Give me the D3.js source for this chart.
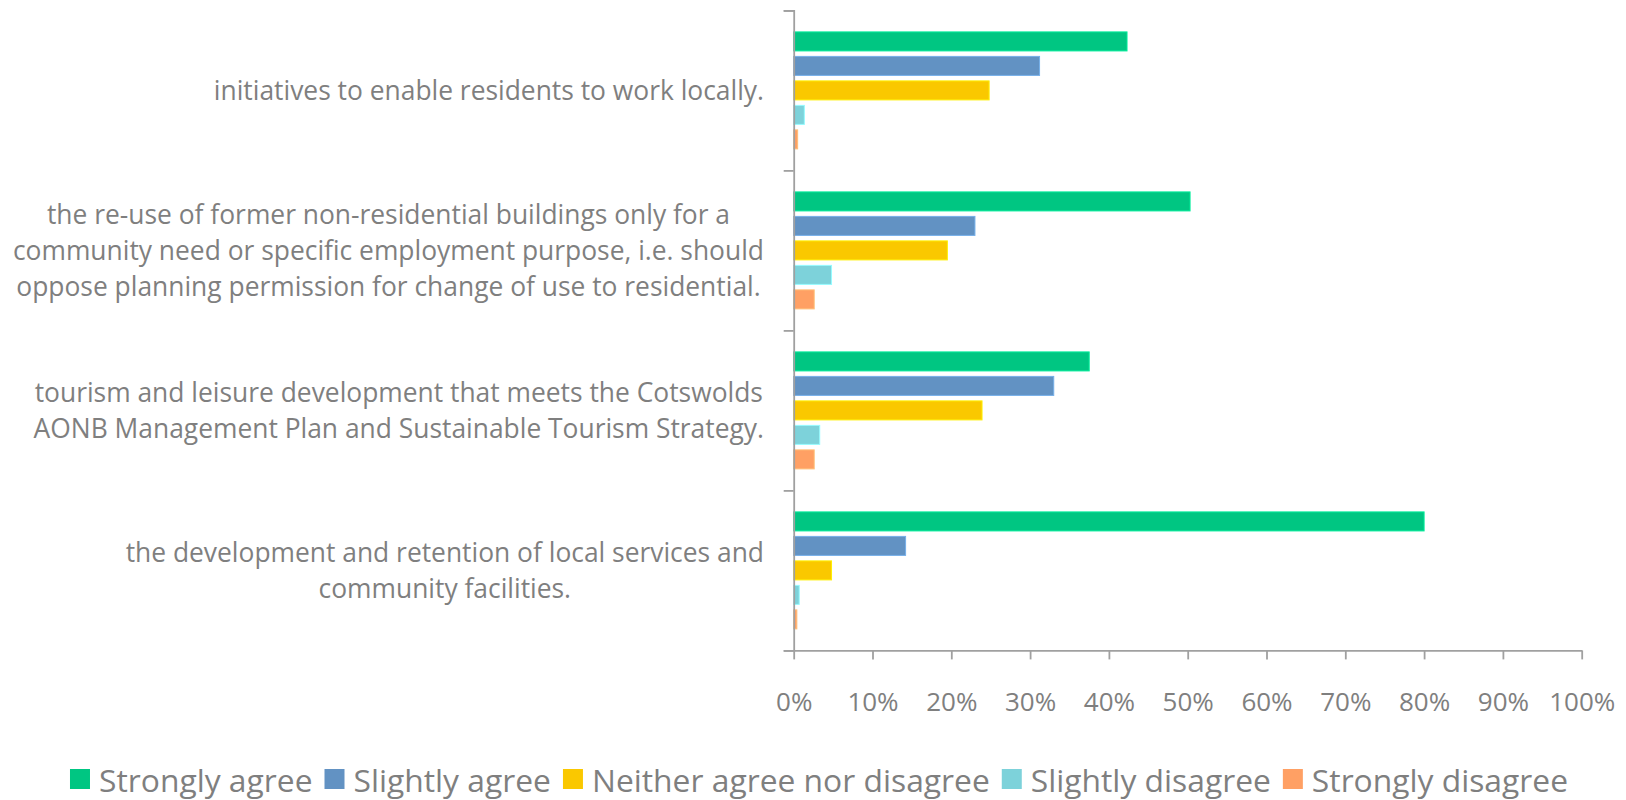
<!DOCTYPE html>
<html>
<head>
<meta charset="utf-8">
<script src="https://cdn.jsdelivr.net/npm/d3@7"></script>
<style>
  html, body { margin: 0; padding: 0; background: #fff; }
  svg { display: block; }
</style>
</head>
<body>
<div id="chart"></div>
<script>
// Categories, top to bottom, with the line breaks used in the picture
const categories = [
  ['initiatives to enable residents to work locally.'],
  ['the re-use of former non-residential buildings only for a',
   'community need or specific employment purpose, i.e. should',
   'oppose planning permission for change of use to residential.'],
  ['tourism and leisure development that meets the Cotswolds',
   'AONB Management Plan and Sustainable Tourism Strategy.'],
  ['the development and retention of local services and',
   'community facilities.']
];

const seriesNames = ['Strongly agree', 'Slightly agree', 'Neither agree nor disagree', 'Slightly disagree', 'Strongly disagree'];
const seriesColors = ['#00c682', '#6292c3', '#fac800', '#7dd2da', '#ffa064'];

// percentages, one value per category
const strongAgree    = [42.3, 50.3, 37.5, 80.0];
const slightAgree    = [31.2, 23.0, 33.0, 14.2];
const neither        = [24.8, 19.5, 23.9, 4.8];
const slightDisagree = [1.35, 4.8, 3.3, 0.7];
const strongDisagree = [0.5, 2.6, 2.6, 0.4];

const xTicks = [0, 10, 20, 30, 40, 50, 60, 70, 80, 90, 100];

const seriesValues = [strongAgree, slightAgree, neither, slightDisagree, strongDisagree];

const W = 1626, H = 800;
const font = "'Open Sans', sans-serif";
const textColor = '#7f7f7f';
const axisColor = '#a0a0a0';

const svg = d3.select('#chart').append('svg')
  .attr('width', W).attr('height', H)
  .style('font-family', font);

const plot = { left: 793.7, right: 1581.7, top: 10.4, bottom: 650.4 };

const xScale = d3.scaleLinear().domain([0, 100]).range([plot.left, plot.right]);

const catIds = categories.map((c, i) => i);
const y0 = d3.scaleBand().domain(catIds).range([plot.top, plot.bottom]).padding(0);
const y1 = d3.scaleBand().domain(seriesNames).range([0, y0.bandwidth()])
  .paddingInner(0.224).paddingOuter(0.878);

// Bars
const barData = [];
catIds.forEach(ci => {
  seriesNames.forEach((s, si) => {
    barData.push({ cat: ci, series: s, value: seriesValues[si][ci], color: seriesColors[si] });
  });
});

svg.append('g').selectAll('rect')
  .data(barData)
  .join('rect')
  .attr('x', xScale(0))
  .attr('y', d => y0(d.cat) + y1(d.series))
  .attr('width', d => xScale(d.value) - xScale(0))
  .attr('height', y1.bandwidth())
  .attr('fill', d => d.color)
  .attr('stroke', d => d3.color(d.color).brighter(0.5))
  .attr('stroke-width', 1);

// Left axis: ticks at category boundaries
const yEdge = d3.scaleLinear().domain([0, categories.length]).range([plot.top, plot.bottom]);
const yAxis = svg.append('g')
  .attr('transform', `translate(${plot.left},0)`)
  .call(d3.axisLeft(yEdge).ticks(categories.length).tickSize(10).tickFormat(''));
yAxis.selectAll('path, line').attr('stroke', axisColor).attr('stroke-width', 1.8);

// Bottom axis
const xAxis = svg.append('g')
  .attr('transform', `translate(0,${plot.bottom})`)
  .call(d3.axisBottom(xScale).tickValues(xTicks).tickSize(9).tickSizeOuter(0).tickFormat(d => d + '%'));
xAxis.selectAll('path, line').attr('stroke', axisColor).attr('stroke-width', 1.8);
xAxis.selectAll('text')
  .attr('y', 61).attr('dy', 0)
  .style('font-family', font).style('font-size', '26px').attr('fill', textColor);

// Category labels: each block is right-aligned, lines centred inside it
const lineH = 36;
const labelRight = 764;
const labels = svg.append('g');
categories.forEach((lines, ci) => {
  const cy = y0(ci) + y0.bandwidth() / 2;
  const t = labels.append('text')
    .attr('text-anchor', 'middle')
    .attr('fill', textColor)
    .style('font-size', '26.4px');
  const spans = lines.map((ln, li) => t.append('tspan')
    .attr('y', cy + 10 + (li - (lines.length - 1) / 2) * lineH)
    .text(ln));
  const maxW = d3.max(spans, s => s.node().getComputedTextLength());
  spans.forEach(s => s.attr('x', labelRight - maxW / 2));
});

// Legend
const legend = svg.append('g');
let lx = 0;
seriesNames.forEach((s, i) => {
  const g = legend.append('g');
  g.append('rect').attr('x', 0).attr('y', 769).attr('width', 20).attr('height', 20).attr('fill', seriesColors[i]);
  const txt = g.append('text').attr('x', 29).attr('y', 792)
    .attr('fill', textColor).style('font-size', '31.8px').text(s);
  const w = 29 + txt.node().getComputedTextLength();
  g.attr('transform', `translate(${lx},0)`);
  lx += w + 12;
});
const totalW = lx - 12;
legend.attr('transform', `translate(${819 - totalW / 2},0)`);
</script>
</body>
</html>
